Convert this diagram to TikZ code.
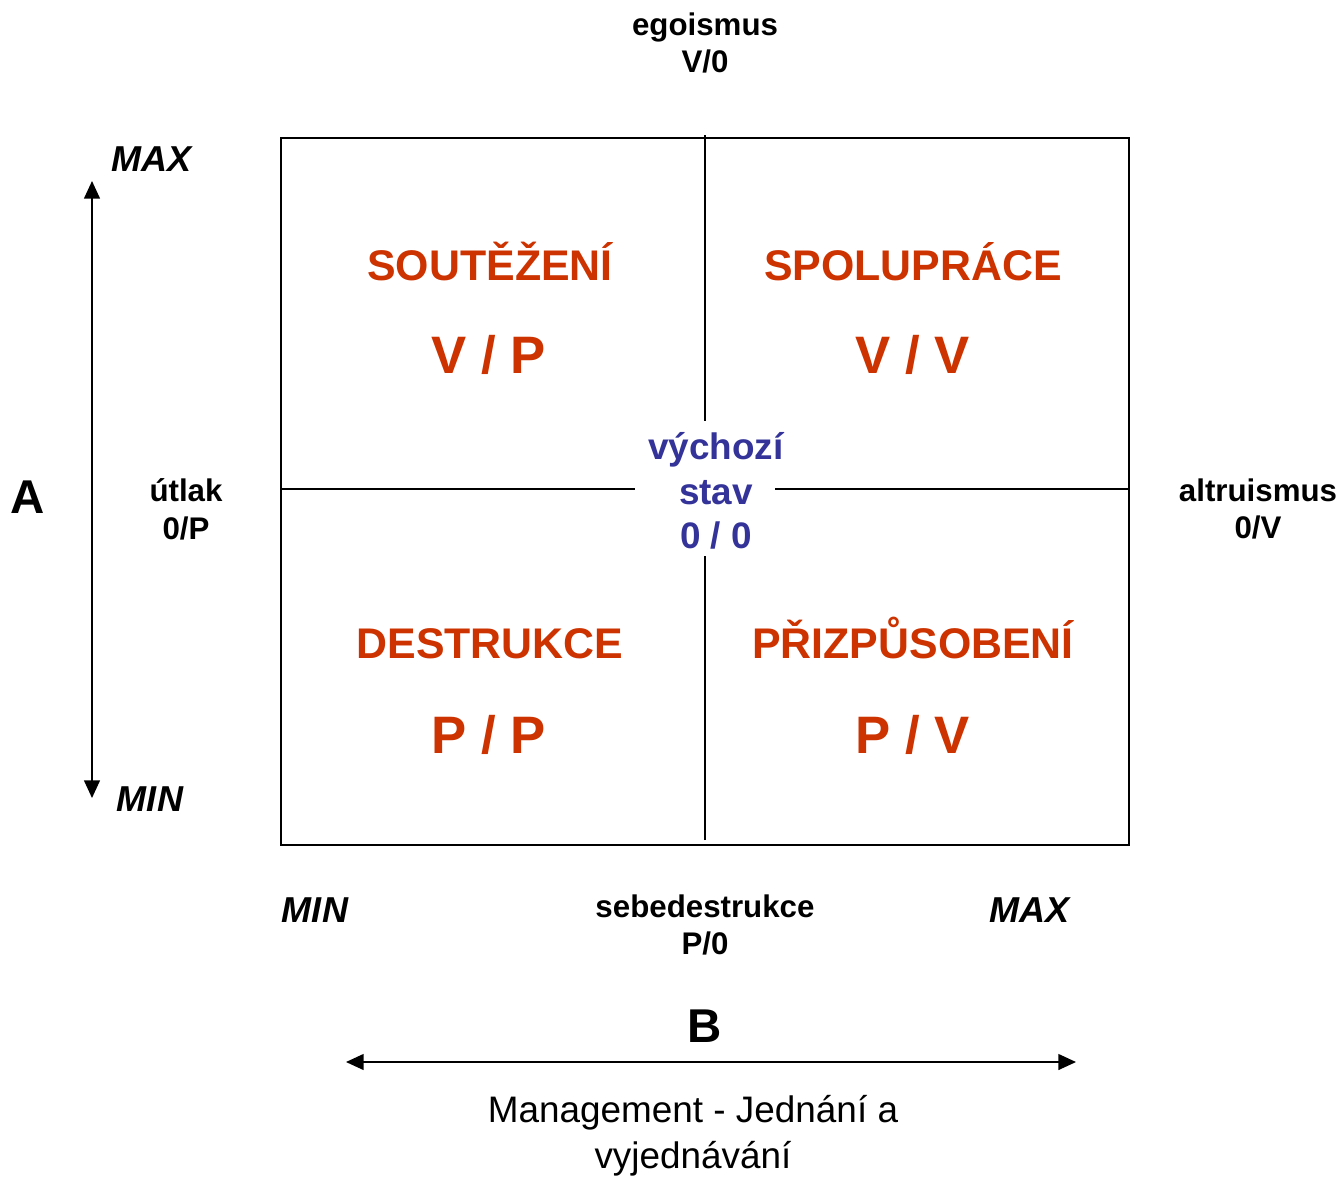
\documentclass[tikz,border=0pt]{standalone}
\usepackage{fontspec}
\setmainfont{Liberation Sans}
\usetikzlibrary{arrows.meta,positioning}
\definecolor{quadColor}{RGB}{204,51,0}
\definecolor{startColor}{RGB}{51,51,153}
\tikzset{quadrant/.style={text=quadColor, font=\bfseries\fontsize{24.4}{28}\selectfont, inner sep=0pt, anchor=base}}
\tikzset{score/.style={quadrant, font=\bfseries\fontsize{30}{36}\selectfont}}
\tikzset{side/.style={align=center, font=\bfseries\fontsize{17.8}{21.5}\selectfont, inner sep=0pt}}
\tikzset{limit/.style={font=\bfseries\itshape\fontsize{20.5}{22}\selectfont, inner sep=0pt}}
\tikzset{axis/.style={font=\bfseries\fontsize{27}{30}\selectfont, inner sep=0pt}}

\begin{document}
\begin{tikzpicture}[x=0.02cm, y=-0.02cm, line width=0.9pt]
	\useasboundingbox (0,0) rectangle (1343,1177);
	% Nodes
		\coordinate (boxNW) at (281,138);
		\coordinate (boxSE) at (1129,845);
		
		\node (soutezeni) [quadrant] at (490,280) {SOUTĚŽENÍ};
		\node (vp) [score] at (489,373) {V / P};
		\node (spoluprace) [quadrant] at (913,280) {SPOLUPRÁCE};
		\node (vv) [score] at (913,373) {V / V};
		\node (destrukce) [quadrant] at (490,658) {DESTRUKCE};
		\node (pp) [score] at (489,753) {P / P};
		\node (prizpusobeni) [quadrant] at (913,658) {PŘIZPŮSOBENÍ};
		\node (pv) [score] at (913,753) {P / V};
		
		\node (start) [side, text=startColor, font=\bfseries\fontsize{21}{25.5}\selectfont] at (716,491) {výchozí\\ stav\\ 0 / 0};
		
		\node (egoismus) [side] at (705,43) {egoismus\\ V/0};
		\node (utlak) [side] at (186,509) {útlak\\ 0/P};
		\node (altruismus) [side] at (1258,509) {altruismus\\ 0/V};
		\node (sebedestrukce) [side] at (705,925) {sebedestrukce\\ P/0};
		
		\node (maxA) [limit] at (152,159) {MAX};
		\node (minA) [limit] at (150,799) {MIN};
		\node (minB) [limit] at (315,910) {MIN};
		\node (maxB) [limit] at (1030,910) {MAX};
		
		\node (axisA) [axis] at (28,497) {A};
		\node (axisB) [axis] at (705,1026) {B};
		\node (title) [align=center, font=\fontsize{21}{26}\selectfont, inner sep=0pt] at (693,1136) {Management - Jednání a\\ vyjednávání};
		
		\coordinate (aTop) at (92,181);
		\coordinate (aBot) at (92,798);
		\coordinate (bLeft) at (346,1062);
		\coordinate (bRight) at (1076,1062);
		
		\coordinate (midN) at (705,135);
		\coordinate (midS) at (705,840);
		\coordinate (midW) at (281,489);
		\coordinate (midE) at (1129,489);
		\coordinate (gapN) at (705,421);
		\coordinate (gapS) at (705,556);
		\coordinate (gapW) at (635,489);
		\coordinate (gapE) at (775,489);
	
	% Connectors
	\draw (boxNW) rectangle (boxSE);
	\draw (midN) -- (gapN);
	\draw (midS) -- (gapS);
	\draw (midW) -- (gapW);
	\draw (midE) -- (gapE);
	
	\begin{scope}[{Triangle[length=10pt, width=9pt]}-{Triangle[length=10pt, width=9pt]}]
		\draw (aTop) -- (aBot);
		\draw (bLeft) -- (bRight);
	\end{scope}

\end{tikzpicture}
\end{document}
